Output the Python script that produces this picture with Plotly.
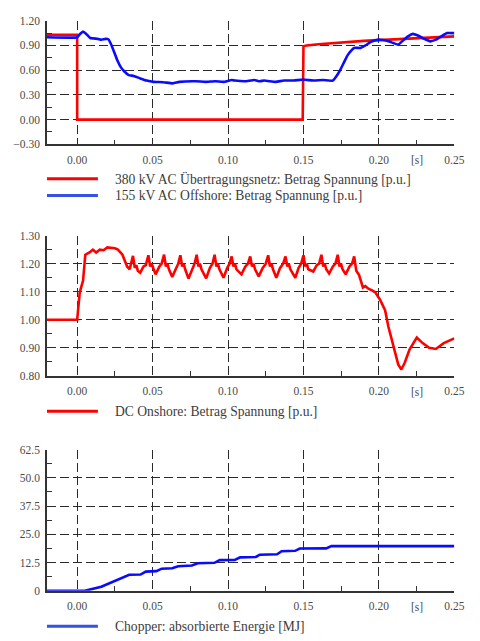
import plotly.graph_objects as go

W, H = 480, 641

# ---------------- data ----------------
# 380 kV AC grid voltage magnitude [p.u.]
t_ac380 = [-0.02, 0.0, 0.0, 0.1495, 0.1500, 0.152, 0.16, 0.17, 0.18, 0.19, 0.20,
           0.21, 0.22, 0.23, 0.24, 0.25]
v_ac380 = [1.03, 1.03, 0.0, 0.0, 0.89, 0.90, 0.915, 0.93, 0.945, 0.955, 0.965,
           0.975, 0.985, 0.995, 1.003, 1.01]

# 155 kV AC offshore voltage magnitude [p.u.]
t_ac155 = [-0.02, 0.0, 0.002, 0.0039, 0.006, 0.0087, 0.0136, 0.016, 0.019, 0.0206,
           0.0223, 0.0245, 0.0266, 0.0288, 0.031, 0.0342, 0.0375, 0.0418, 0.046,
           0.0505, 0.057, 0.0634, 0.0677, 0.0786, 0.085, 0.0916, 0.097, 0.1024,
           0.1045, 0.111, 0.1175, 0.121, 0.124, 0.1316, 0.137, 0.1435, 0.150,
           0.1565, 0.163, 0.1695, 0.1716, 0.1743, 0.177, 0.1792, 0.1818, 0.1836,
           0.1879, 0.1911, 0.1944, 0.1976, 0.2009, 0.2052, 0.2095, 0.2128, 0.216,
           0.2193, 0.2225, 0.2258, 0.2301, 0.234, 0.2377, 0.2413, 0.2452, 0.25]
v_ac155 = [1.0, 1.0, 1.04, 1.069, 1.04, 0.99, 0.98, 0.97, 0.98, 0.975,
           0.92, 0.82, 0.72, 0.64, 0.59, 0.54, 0.53, 0.50, 0.474,
           0.458, 0.454, 0.44, 0.458, 0.466, 0.458, 0.466, 0.458, 0.48,
           0.474, 0.466, 0.48, 0.466, 0.474, 0.458, 0.474, 0.474, 0.486,
           0.474, 0.48, 0.474, 0.52, 0.60, 0.70, 0.78, 0.84, 0.87,
           0.87, 0.90, 0.94, 0.964, 0.97, 0.956, 0.93, 0.91, 0.96,
           1.01, 1.04, 1.02, 0.98, 0.95, 0.97, 1.01, 1.05, 1.05]

# DC onshore voltage magnitude [p.u.]
t_dc = [-0.02, 0.0, 0.0017, 0.0039, 0.0054, 0.0082, 0.0104, 0.0126, 0.015, 0.0175,
        0.020, 0.025, 0.027, 0.030, 0.0331, 0.0348,
        0.0370, 0.0382, 0.0392, 0.0402, 0.0418, 0.0440, 0.0455,
        0.0472, 0.0484, 0.0494, 0.0504, 0.0520, 0.0545, 0.0560,
        0.0576, 0.0588, 0.0598, 0.0608, 0.0630, 0.0655, 0.0670,
        0.0684, 0.0696, 0.0706, 0.0716, 0.0738, 0.0762, 0.0778,
        0.0792, 0.0804, 0.0814, 0.0824, 0.0855, 0.0880, 0.0897,
        0.0911, 0.0923, 0.0933, 0.0943, 0.0970, 0.0995, 0.1010,
        0.1024, 0.1036, 0.1046, 0.1056, 0.1089, 0.1115, 0.1132,
        0.1147, 0.1159, 0.1169, 0.1179, 0.1203, 0.1230, 0.1250,
        0.1266, 0.1278, 0.1288, 0.1298, 0.1320, 0.1345, 0.1365,
        0.1381, 0.1393, 0.1403, 0.1413, 0.1446, 0.1468, 0.1485,
        0.1500, 0.1512, 0.1522, 0.1532, 0.1565, 0.1588, 0.1604,
        0.1619, 0.1631, 0.1641, 0.1651, 0.1670, 0.1695, 0.1712,
        0.1727, 0.1739, 0.1749, 0.1759, 0.1780, 0.1805, 0.1822,
        0.1836, 0.1850, 0.1868, 0.1880, 0.1894, 0.1910, 0.1933, 0.1955, 0.1976,
        0.2009, 0.2041, 0.2063, 0.2084, 0.2106, 0.2128, 0.2149, 0.2171, 0.2203,
        0.2251, 0.229, 0.2333, 0.2377, 0.243, 0.25]
v_dc = [1.0, 1.0, 1.098, 1.14, 1.232, 1.24, 1.25, 1.24, 1.25, 1.248,
        1.258, 1.255, 1.25, 1.232, 1.19, 1.18,
        1.228, 1.185, 1.195, 1.175, 1.168, 1.19, 1.195,
        1.230, 1.19, 1.20, 1.185, 1.162, 1.19, 1.20,
        1.232, 1.19, 1.20, 1.18, 1.153, 1.185, 1.20,
        1.230, 1.19, 1.20, 1.18, 1.147, 1.18, 1.20,
        1.232, 1.19, 1.20, 1.18, 1.148, 1.185, 1.20,
        1.232, 1.19, 1.20, 1.18, 1.150, 1.185, 1.20,
        1.226, 1.19, 1.20, 1.18, 1.162, 1.19, 1.20,
        1.226, 1.19, 1.20, 1.18, 1.155, 1.185, 1.20,
        1.230, 1.19, 1.20, 1.18, 1.150, 1.185, 1.20,
        1.226, 1.19, 1.20, 1.18, 1.150, 1.185, 1.20,
        1.230, 1.19, 1.20, 1.18, 1.172, 1.195, 1.20,
        1.232, 1.19, 1.20, 1.18, 1.165, 1.19, 1.20,
        1.232, 1.19, 1.20, 1.18, 1.162, 1.19, 1.20,
        1.226, 1.175, 1.16, 1.14, 1.115, 1.12, 1.11, 1.105, 1.098,
        1.07, 1.034, 0.975, 0.929, 0.882, 0.841, 0.823, 0.847, 0.894,
        0.937, 0.917, 0.90, 0.896, 0.917, 0.934]

# Chopper absorbed energy [MJ]
t_chop = [-0.02, 0.005, 0.016, 0.0245, 0.031, 0.0345, 0.042, 0.0455, 0.0525,
          0.056, 0.063, 0.067, 0.076, 0.080, 0.091, 0.0945, 0.1045, 0.108,
          0.1185, 0.121, 0.1325, 0.1355, 0.1445, 0.1475, 0.165, 0.1685, 0.25]
e_chop = [0.0, 0.0, 1.8, 4.2, 5.8, 7.1, 7.2, 8.5, 8.7,
          9.8, 10.0, 10.9, 11.2, 12.2, 12.4, 13.6, 13.7, 14.8,
          15.0, 16.0, 16.2, 17.5, 17.7, 18.7, 18.8, 19.8, 19.8]

x_ticks = [0.0, 0.05, 0.10, 0.15, 0.20, 0.25]
x_minor = [0.025, 0.075, 0.125, 0.175, 0.225]
y1_ticks = [-0.30, 0.0, 0.30, 0.60, 0.90, 1.20]
y2_ticks = [0.80, 0.90, 1.00, 1.10, 1.20, 1.30]
y3_ticks = [0.0, 12.5, 25.0, 37.5, 50.0, 62.5]
y3_text = ["0", "12.5", "25.0", "37.5", "50.0", "62.5"]

legend1 = ["380 kV AC Übertragungsnetz: Betrag Spannung [p.u.]",
           "155 kV AC Offshore: Betrag Spannung [p.u.]"]
legend2 = ["DC Onshore: Betrag Spannung [p.u.]"]
legend3 = ["Chopper: absorbierte Energie [MJ]"]

RED = "#ff0000"
BLUE = "#0a0aff"
LEG_BLUE = "#3550e6"
FONT = "Liberation Serif"
TXT = "#4a4a4a"
GRID = "#2a2a2a"


def py(p):
    """pixel row -> paper y"""
    return 1 - p / H


def px(p):
    return p / W


# plot areas in pixel rows (top, bottom)
areas = [(15, 141), (234, 377), (452, 596)]
xdom = [px(48), px(464)]

fig = go.Figure()
fig.add_trace(go.Scatter(x=t_ac380, y=v_ac380, mode="lines",
                         line=dict(color=RED, width=2.6), xaxis="x", yaxis="y"))
fig.add_trace(go.Scatter(x=t_ac155, y=v_ac155, mode="lines",
                         line=dict(color=BLUE, width=2.6, shape="spline", smoothing=0.4),
                         xaxis="x", yaxis="y"))
fig.add_trace(go.Scatter(x=t_dc, y=v_dc, mode="lines",
                         line=dict(color=RED, width=2.6), xaxis="x2", yaxis="y2"))
fig.add_trace(go.Scatter(x=t_chop, y=e_chop, mode="lines",
                         line=dict(color=BLUE, width=2.6), xaxis="x3", yaxis="y3"))

tick_font = dict(family=FONT, size=11.5, color=TXT)


def xaxis_cfg(anchor):
    return dict(domain=xdom, anchor=anchor, range=[-0.02, 0.25],
                tickvals=x_ticks, tickformat=".2f", tickfont=tick_font,
                showgrid=True, gridcolor=GRID, gridwidth=1.2, griddash="9px,4px",
                showline=True, linecolor="#333", linewidth=1.5, zeroline=False,
                ticks="", ticklabelstandoff=4,
                minor=dict(tickvals=x_minor, ticks="inside", ticklen=5,
                           tickcolor="#333", tickwidth=1, showgrid=False))


def yaxis_cfg(anchor, area, rng, vals, text=None, minor=None):
    d = dict(domain=[py(area[1]), py(area[0])], anchor=anchor, range=rng,
             tickvals=vals, tickfont=tick_font,
             showgrid=True, gridcolor=GRID, gridwidth=1.2, griddash="9px,4px",
             showline=True, linecolor="#333", linewidth=1.5, zeroline=False,
             ticks="", ticklabelstandoff=3,
             minor=dict(tickvals=minor, ticks="inside", ticklen=5,
                        tickcolor="#333", tickwidth=1, showgrid=False))
    if text is not None:
        d["ticktext"] = text
    else:
        d["tickformat"] = ".2f"
    return d


fig.update_layout(
    width=W, height=H, margin=dict(l=0, r=0, t=0, b=0),
    paper_bgcolor="white", plot_bgcolor="white", showlegend=False,
    xaxis=xaxis_cfg("y"), xaxis2=xaxis_cfg("y2"), xaxis3=xaxis_cfg("y3"),
    yaxis=yaxis_cfg("x", areas[0], [-0.30, 1.20], y1_ticks,
                    minor=[-0.15, 0.15, 0.45, 0.75, 1.05]),
    yaxis2=yaxis_cfg("x2", areas[1], [0.80, 1.30], y2_ticks,
                     minor=[0.85, 0.95, 1.05, 1.15, 1.25]),
    yaxis3=yaxis_cfg("x3", areas[2], [0, 62.5], y3_ticks, y3_text,
                     minor=[6.25, 18.75, 31.25, 43.75, 56.25]),
)

# time unit label between the last two tick labels
for i, xa in enumerate(["x", "x2", "x3"]):
    fig.add_annotation(x=0.225, xref=xa, y=py(areas[i][1] + 16), yref="paper",
                       text="[s]", showarrow=False, font=tick_font,
                       xanchor="center", yanchor="middle")

# legend entries below each panel
legend_rows = [
    (176, RED, legend1[0]), (193, LEG_BLUE, legend1[1]),
    (413, RED, legend2[0]),
    (632, LEG_BLUE, legend3[0]),
]
for row, col, label in legend_rows:
    fig.add_shape(type="line", xref="paper", yref="paper",
                  x0=px(48), x1=px(100), y0=py(row), y1=py(row),
                  line=dict(color=col, width=3))
    fig.add_annotation(x=px(116), y=py(row), xref="paper", yref="paper",
                       text=label, showarrow=False, xanchor="left",
                       yanchor="middle", borderpad=0,
                       font=dict(family=FONT, size=13.6, color="#3c3c3c"))

fig.write_html("out.html")
